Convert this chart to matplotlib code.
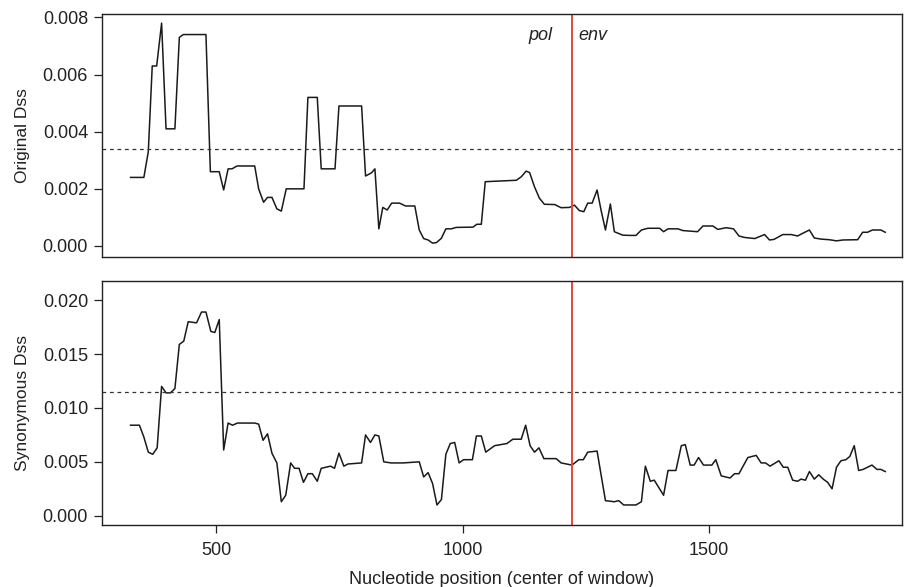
import matplotlib
matplotlib.use("Agg")
import matplotlib.pyplot as plt

plt.rcParams["font.family"] = ["Liberation Sans", "DejaVu Sans"]

# 窗口中心位置与 Dss 值
orig_pos = [326, 353, 362, 370, 379, 389, 398, 416, 425, 433, 479, 488, 506, 515, 524, 532,
            542, 578, 586, 596, 604, 613, 623, 632, 642, 653, 678, 686, 705, 713, 741, 749,
            795, 803, 815, 822, 830, 838, 847, 856, 872, 884, 903, 912, 921, 930, 939, 947,
            957, 966, 977, 987, 1021, 1029, 1038, 1046, 1109, 1119, 1129, 1136, 1146, 1156,
            1166, 1187, 1200, 1217, 1227, 1237, 1246, 1254, 1263, 1273, 1281, 1290, 1300,
            1308, 1325, 1339, 1352, 1363, 1376, 1400, 1408, 1417, 1437, 1447, 1477, 1488,
            1508, 1518, 1535, 1550, 1561, 1572, 1593, 1613, 1623, 1632, 1650, 1667, 1680,
            1690, 1704, 1714, 1728, 1744, 1759, 1772, 1802, 1812, 1822, 1832, 1849, 1858]
orig_dss = [0.0024, 0.0024, 0.0033, 0.0063, 0.0063, 0.0078, 0.0041, 0.0041, 0.0073, 0.0074,
            0.0074, 0.0026, 0.0026, 0.00196, 0.0027, 0.0027, 0.0028, 0.0028, 0.0020, 0.00153,
            0.0017, 0.0017, 0.0013, 0.00122, 0.0020, 0.0020, 0.0020, 0.0052, 0.0052, 0.0027,
            0.0027, 0.0049, 0.0049, 0.00245, 0.00256, 0.0027, 0.0006, 0.00135, 0.00126, 0.0015,
            0.0015, 0.0014, 0.0014, 0.00056, 0.00026, 0.00021, 0.0001, 0.00012, 0.00027, 0.0006,
            0.0006, 0.00065, 0.00066, 0.00076, 0.00076, 0.00225, 0.0023, 0.00242, 0.00262,
            0.00257, 0.00207, 0.00167, 0.00146, 0.00145, 0.00134, 0.00135, 0.00143, 0.00124,
            0.0012, 0.0015, 0.0015, 0.00196, 0.00126, 0.00056, 0.00147, 0.0005, 0.00038,
            0.00037, 0.00037, 0.00056, 0.00062, 0.00062, 0.0005, 0.0006, 0.0006, 0.00054,
            0.0005, 0.0007, 0.0007, 0.00058, 0.00064, 0.0006, 0.00035, 0.0003, 0.00026, 0.0004,
            0.00021, 0.00023, 0.0004, 0.0004, 0.00035, 0.00044, 0.00056, 0.00028, 0.00024,
            0.00022, 0.00018, 0.00021, 0.00022, 0.00048, 0.00048, 0.00056, 0.00056, 0.00048]

syn_pos = [326, 344, 353, 362, 371, 380, 389, 398, 407, 416, 425, 434, 443, 460, 470, 479,
           489, 497, 506, 515, 524, 533, 543, 578, 586, 595, 604, 613, 623, 632, 641, 651,
           659, 668, 677, 686, 695, 705, 713, 723, 732, 740, 749, 759, 767, 795, 803, 813,
           822, 830, 840, 855, 879, 912, 921, 930, 939, 948, 957, 966, 975, 984, 993, 1002,
           1020, 1028, 1038, 1047, 1065, 1090, 1102, 1119, 1128, 1137, 1146, 1155, 1165,
           1190, 1200, 1222, 1236, 1245, 1254, 1273, 1290, 1308, 1317, 1327, 1352, 1363,
           1371, 1381, 1389, 1408, 1417, 1433, 1444, 1452, 1462, 1470, 1479, 1489, 1506,
           1514, 1525, 1543, 1552, 1561, 1579, 1596, 1606, 1615, 1624, 1642, 1651, 1660,
           1670, 1680, 1687, 1696, 1704, 1714, 1723, 1732, 1741, 1750, 1759, 1768, 1778,
           1786, 1795, 1804, 1813, 1822, 1831, 1841, 1849, 1858]
syn_dss = [0.0084, 0.0084, 0.0073, 0.0059, 0.0057, 0.0063, 0.0120, 0.0114, 0.0114, 0.0118,
           0.0159, 0.0162, 0.0180, 0.0179, 0.0189, 0.0189, 0.0171, 0.0170, 0.0182, 0.0061,
           0.0086, 0.0084, 0.0086, 0.0086, 0.0085, 0.0070, 0.0076, 0.0058, 0.0049, 0.0013,
           0.0019, 0.0049, 0.0044, 0.0044, 0.0031, 0.0039, 0.0039, 0.0032, 0.0044, 0.0045,
           0.0046, 0.0044, 0.0058, 0.0046, 0.0048, 0.0049, 0.0075, 0.0068, 0.0075, 0.0074,
           0.0050, 0.0049, 0.0049, 0.0050, 0.0036, 0.0040, 0.0030, 0.0010, 0.0015, 0.0057,
           0.0067, 0.0068, 0.0049, 0.0052, 0.0052, 0.0074, 0.0074, 0.0059, 0.0065, 0.0067,
           0.0071, 0.0071, 0.0084, 0.0065, 0.0059, 0.0063, 0.0053, 0.0053, 0.0049, 0.0047,
           0.0052, 0.0052, 0.0059, 0.0060, 0.0014, 0.0013, 0.0014, 0.0010, 0.0010, 0.0013,
           0.0046, 0.0032, 0.0033, 0.0019, 0.0042, 0.0042, 0.0065, 0.0066, 0.0047, 0.0047,
           0.0054, 0.0047, 0.0047, 0.0052, 0.0037, 0.0035, 0.0039, 0.0039, 0.0054, 0.0056,
           0.0049, 0.0049, 0.0046, 0.0051, 0.0045, 0.0045, 0.0033, 0.0032, 0.0034, 0.0033,
           0.0041, 0.0034, 0.0038, 0.0034, 0.0031, 0.0025, 0.0045, 0.0051, 0.0052, 0.0055,
           0.0065, 0.0042, 0.0043, 0.0045, 0.0047, 0.0043, 0.0043, 0.0041]

orig_cutoff = 0.0034
syn_cutoff = 0.0115
boundary = 1222
gene_labels = ["pol", "env"]

orig_ticks = [0.000, 0.002, 0.004, 0.006, 0.008]
syn_ticks = [0.000, 0.005, 0.010, 0.015, 0.020]
x_ticks = [500, 1000, 1500]

fig = plt.figure(figsize=(9.05, 5.87), dpi=100)
ax1 = fig.add_axes([0.1127, 0.5622, 0.884, 0.414])
ax2 = fig.add_axes([0.1127, 0.1056, 0.884, 0.4157])

panels = [
    (ax1, orig_pos, orig_dss, orig_cutoff, orig_ticks, (-0.000385, 0.00812), "Original Dss"),
    (ax2, syn_pos, syn_dss, syn_cutoff, syn_ticks, (-0.00086, 0.02178), "Synonymous Dss"),
]
for ax, xs, ys, cut, yt, ylim, lab in panels:
    ax.plot(xs, ys, color="#1a1a1a", lw=1.1)
    ax.axhline(cut, color="#333333", lw=0.9, ls=(0, (3, 3)))
    ax.axvline(boundary, color="#e8453c", lw=1.4)
    ax.set_xlim(268, 1892)
    ax.set_ylim(*ylim)
    ax.set_yticks(yt)
    ax.set_yticklabels([f"{v:.3f}" for v in yt])
    ax.set_ylabel(lab, fontsize=12.5, color="#222222", labelpad=9)
    ax.tick_params(axis="both", direction="out", length=6, width=0.9, labelsize=13,
                   pad=4, colors="#222222")
    for s in ax.spines.values():
        s.set_linewidth(1.0)
        s.set_color("#222222")

ax1.set_xticks([])
ax2.set_xticks(x_ticks)
ax2.set_xticklabels([str(t) for t in x_ticks])
ax2.tick_params(axis="x", pad=6)
ax2.set_xlabel("Nucleotide position (center of window)", fontsize=13, color="#222222", labelpad=9)

ax1.text(boundary - 40, 0.0072, gene_labels[0], style="italic", fontsize=13, ha="right",
         va="baseline", color="#222222")
ax1.text(boundary + 14, 0.0072, gene_labels[1], style="italic", fontsize=13, ha="left",
         va="baseline", color="#222222")

fig.savefig("out.png", dpi=100)
